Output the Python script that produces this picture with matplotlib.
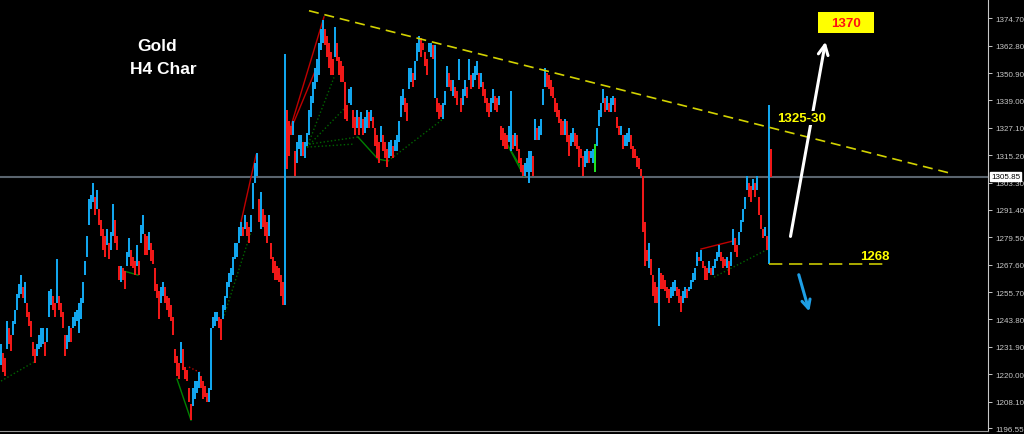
import matplotlib
matplotlib.use("Agg")
import matplotlib.pyplot as plt
from matplotlib.patches import Rectangle
import numpy as np

# Gold H4 candles as (high, low) pairs, oldest first
highs = [
    1233, 1229, 1227, 1243, 1240, 1237, 1243, 1248, 1255, 1259,
    1263, 1258, 1260, 1251, 1247, 1243, 1234, 1231, 1233, 1237,
    1240, 1240, 1234, 1240, 1256, 1257, 1254, 1251, 1270, 1254,
    1251, 1247, 1237, 1237, 1241, 1240, 1245, 1247, 1248, 1251,
    1253, 1260, 1269, 1280, 1296, 1298, 1303, 1297, 1300, 1292,
    1287, 1283, 1280, 1283, 1277, 1282, 1294, 1287, 1280, 1267,
    1267, 1266, 1265, 1273, 1279, 1274, 1271, 1269, 1276, 1269,
    1285, 1289, 1281, 1280, 1282, 1277, 1274, 1266, 1259, 1256,
    1258, 1260, 1258, 1254, 1253, 1250, 1245, 1231, 1228, 1225,
    1234, 1231, 1223, 1222, 1214, 1207, 1214, 1217, 1217, 1221,
    1219, 1217, 1215, 1212, 1214, 1240, 1245, 1247, 1247, 1245,
    1244, 1250, 1254, 1260, 1264, 1266, 1271, 1277, 1277, 1284,
    1286, 1284, 1289, 1286, 1284, 1289, 1303, 1312, 1316, 1296,
    1299, 1292, 1289, 1286, 1289, 1277, 1271, 1269, 1267, 1266,
    1263, 1260, 1359, 1335, 1330, 1328, 1330, 1317, 1321, 1324,
    1324, 1321, 1321, 1325, 1335, 1341, 1347, 1353, 1357, 1364,
    1370, 1374, 1370, 1367, 1364, 1360, 1357, 1371, 1364, 1358,
    1356, 1354, 1347, 1337, 1344, 1345, 1335, 1332, 1335, 1332,
    1334, 1331, 1332, 1335, 1334, 1335, 1332, 1327, 1324, 1321,
    1328, 1324, 1321, 1318, 1321, 1322, 1319, 1322, 1324, 1330,
    1341, 1344, 1340, 1338, 1353, 1353, 1351, 1356, 1364, 1367,
    1366, 1364, 1360, 1357, 1364, 1364, 1363, 1363, 1340, 1338,
    1337, 1338, 1343, 1354, 1351, 1348, 1348, 1345, 1343, 1357,
    1340, 1344, 1348, 1345, 1357, 1350, 1351, 1354, 1356, 1351,
    1351, 1347, 1344, 1340, 1338, 1340, 1344, 1341, 1340, 1341,
    1328, 1327, 1325, 1324, 1328, 1343, 1324, 1325, 1324, 1318,
    1314, 1311, 1312, 1314, 1317, 1317, 1315, 1331, 1327, 1328,
    1331, 1344, 1353, 1351, 1350, 1348, 1345, 1340, 1338, 1335,
    1331, 1330, 1331, 1330, 1324, 1325, 1327, 1325, 1324, 1319,
    1318, 1315, 1317, 1318, 1317, 1317, 1318, 1320, 1327, 1335,
    1338, 1344, 1340, 1341, 1338, 1340, 1341, 1340, 1332, 1328,
    1328, 1324, 1324, 1325, 1327, 1324, 1319, 1318, 1315, 1314,
    1309, 1306, 1286, 1274, 1277, 1270, 1263, 1260, 1258, 1266,
    1264, 1263, 1261, 1258, 1257, 1258, 1260, 1261, 1258, 1257,
    1254, 1256, 1258, 1257, 1258, 1261, 1264, 1266, 1273, 1271,
    1274, 1269, 1267, 1266, 1269, 1266, 1267, 1270, 1273, 1276,
    1273, 1271, 1270, 1271, 1269, 1273, 1283, 1279, 1276, 1282,
    1287, 1292, 1297, 1306, 1303, 1302, 1305, 1303, 1306, 1297,
    1289, 1283, 1284, 1280, 1337, 1318,
]
lows = [
    1224, 1221, 1219, 1231, 1233, 1230, 1237, 1242, 1248, 1253,
    1255, 1253, 1251, 1245, 1241, 1236, 1228, 1225, 1228, 1231,
    1232, 1233, 1228, 1234, 1245, 1250, 1248, 1245, 1251, 1248,
    1245, 1240, 1228, 1231, 1234, 1234, 1240, 1241, 1243, 1238,
    1244, 1251, 1263, 1271, 1285, 1292, 1295, 1289, 1292, 1285,
    1280, 1274, 1271, 1276, 1270, 1274, 1280, 1277, 1274, 1261,
    1260, 1261, 1257, 1267, 1271, 1267, 1266, 1263, 1267, 1263,
    1277, 1281, 1272, 1272, 1274, 1269, 1268, 1256, 1253, 1244,
    1251, 1254, 1251, 1248, 1245, 1243, 1237, 1225, 1219, 1218,
    1225, 1222, 1218, 1217, 1208, 1200, 1206, 1209, 1212, 1214,
    1214, 1209, 1210, 1208, 1208, 1213, 1240, 1241, 1243, 1240,
    1235, 1244, 1248, 1253, 1258, 1260, 1263, 1270, 1271, 1277,
    1280, 1280, 1283, 1280, 1277, 1282, 1292, 1303, 1306, 1286,
    1283, 1284, 1280, 1277, 1280, 1270, 1264, 1261, 1261, 1260,
    1254, 1250, 1250, 1309, 1315, 1324, 1324, 1306, 1312, 1318,
    1315, 1315, 1314, 1319, 1324, 1332, 1338, 1344, 1347, 1350,
    1361, 1364, 1363, 1358, 1353, 1350, 1350, 1358, 1356, 1350,
    1347, 1347, 1331, 1330, 1338, 1337, 1327, 1324, 1327, 1324,
    1327, 1324, 1325, 1327, 1327, 1330, 1327, 1319, 1314, 1312,
    1321, 1317, 1314, 1310, 1314, 1315, 1314, 1317, 1317, 1321,
    1332, 1337, 1334, 1330, 1344, 1347, 1345, 1348, 1356, 1360,
    1358, 1361, 1354, 1350, 1360, 1358, 1357, 1340, 1334, 1331,
    1332, 1331, 1337, 1345, 1345, 1343, 1341, 1340, 1337, 1348,
    1334, 1337, 1341, 1340, 1348, 1344, 1345, 1348, 1350, 1344,
    1345, 1341, 1338, 1334, 1332, 1334, 1338, 1335, 1334, 1337,
    1322, 1319, 1318, 1318, 1321, 1317, 1318, 1319, 1317, 1312,
    1308, 1306, 1306, 1308, 1303, 1308, 1306, 1322, 1322, 1322,
    1324, 1337, 1345, 1345, 1344, 1341, 1340, 1334, 1332, 1329,
    1324, 1324, 1324, 1321, 1315, 1319, 1321, 1319, 1318, 1310,
    1314, 1306, 1310, 1312, 1312, 1314, 1312, 1308, 1319, 1328,
    1332, 1338, 1334, 1335, 1334, 1334, 1337, 1334, 1327, 1324,
    1324, 1318, 1319, 1319, 1321, 1318, 1314, 1314, 1310, 1309,
    1306, 1282, 1267, 1269, 1266, 1263, 1254, 1251, 1251, 1241,
    1257, 1257, 1256, 1253, 1251, 1253, 1254, 1256, 1254, 1251,
    1247, 1251, 1253, 1253, 1256, 1257, 1260, 1261, 1267, 1269,
    1269, 1266, 1261, 1261, 1264, 1263, 1263, 1266, 1269, 1271,
    1269, 1266, 1267, 1266, 1263, 1267, 1276, 1273, 1271, 1276,
    1282, 1286, 1292, 1300, 1297, 1295, 1300, 1297, 1300, 1289,
    1283, 1279, 1280, 1274, 1268, 1305.85,
]
last_price = 1305.85
highlight_bar = 297  # the lime-green candle

price_ticks = [1374.70, 1362.80, 1350.90, 1339.00, 1327.10, 1315.20, 1303.30, 1291.40,
               1279.50, 1267.60, 1255.70, 1243.80, 1231.90, 1220.00, 1208.10, 1196.55]

# drawn analysis: resistance trendline, support at 1268, targets
trend_x = [154, 474.5]
trend_y = [1378.0, 1307.4]
support_level = 1268
support_x = [384, 441]
up_arrow = [(394.5, 1278.7), (412.5, 1365.7)]
down_arrow = [(398.5, 1264.4), (404.5, 1246.1)]
target_label = "1370"
resist_label = "1325-30"

# zigzag helper lines from the indicator: (colour, style, xs, ys)
zigzag = [
    ("#006400", ":", [0, 16.5], [1217.0, 1225.3]),
    ("#006400", ":", [111, 125], [1244.0, 1281.8]),
    ("#006400", ":", [153, 166.5], [1318.7, 1349.0]),
    ("#006400", ":", [153, 171.5], [1318.7, 1335.3]),
    ("#006400", ":", [153, 176], [1318.7, 1320.0]),
    ("#006400", ":", [154, 178.5], [1320.0, 1323.1]),
    ("#006400", ":", [193.5, 221], [1312.7, 1330.9]),
    ("#006400", ":", [356.5, 383.5], [1262.2, 1274.4]),
    ("#008000", "-", [61.5, 68.5], [1264.8, 1263.1]),
    ("#008000", "-", [88, 95], [1217.9, 1200.0]),
    ("#008000", "-", [178.5, 188.5, 193.5], [1323.1, 1313.5, 1312.7]),
    ("#008000", "-", [252.5, 261.5], [1320.9, 1306.1]),
    ("#008000", "-", [251.5, 262], [1322.2, 1307.0]),
    ("#c00000", ":", [94, 100], [1223.1, 1220.5]),
    ("#c00000", "-", [120, 127.5], [1286.1, 1315.3]),
    ("#c00000", "-", [145, 161.5], [1327.9, 1375.3]),
    ("#c00000", "-", [145, 157.5], [1326.6, 1352.7]),
    ("#c00000", "-", [350, 360, 366], [1274.4, 1276.6, 1277.9]),
]

highs = np.array(highs, dtype=float)
lows = np.array(lows, dtype=float)
idx = np.arange(len(highs))
up = np.r_[True, highs[1:] >= highs[:-1]]
colors = np.where(up, "#12a6ee", "#f01818").astype(object)
colors[highlight_bar] = "#20e020"

fig = plt.figure(figsize=(10.24, 4.35), dpi=100, facecolor="black")
ax = fig.add_axes([0, 3 / 435, 988 / 1024, 432 / 435])
ax.set_facecolor("black")
ax.set_xlim(-0.5, 493.5)
ax.set_ylim(1195.3, 1383.1)

ax.axhline(last_price, color="#5a646e", lw=1.5, zorder=1)

for c, ls, xs, ys in zigzag:
    ax.plot(xs, ys, color=c, ls=ls, lw=1.0, zorder=2)

ax.vlines(idx, lows, highs, colors=list(colors), lw=1.45, zorder=3)

ax.plot(trend_x, trend_y, color="#d2d200", lw=1.2, dashes=(6, 3.5), zorder=4)
ax.plot(support_x, [support_level] * 2, color="#c8c800", lw=1.2, dashes=(8, 4), zorder=4)

ax.annotate("", xy=up_arrow[1], xytext=up_arrow[0], zorder=5,
            arrowprops=dict(arrowstyle="->,head_length=0.7,head_width=0.35", color="white", lw=2.2))
ax.annotate("", xy=down_arrow[1], xytext=down_arrow[0], zorder=5,
            arrowprops=dict(arrowstyle="->,head_length=0.6,head_width=0.3", color="#1e9fe6", lw=2.2))

ax.add_patch(Rectangle((408.5, 1368.3), 28, 9.1, facecolor="#ffff00", edgecolor="none", zorder=5))
ax.text(422.5, 1372.8, target_label, color="#ff1010", fontsize=9.5, fontweight="bold",
        family="Liberation Sans", ha="center", va="center", zorder=6)
# the label sits on a black patch, so the arrow and trendline break behind it
ax.text(400.5, 1331.3, resist_label, color="#ffff00", fontsize=9.5, fontweight="bold",
        family="Liberation Sans", ha="center", va="center", zorder=6,
        bbox=dict(boxstyle="square,pad=0.1", fc="black", ec="none"))
ax.text(437, 1271.3, str(support_level), color="#ffff00", fontsize=9.5, fontweight="bold",
        family="Liberation Sans", ha="center", va="center", zorder=6)

ax.text(78, 1363.1, "Gold", color="white", fontsize=12.5, fontweight="bold",
        family="Liberation Sans", ha="center", va="center")
ax.text(81, 1352.7, "H4 Char", color="white", fontsize=12.5, fontweight="bold",
        family="Liberation Sans", ha="center", va="center")

# price scale on the right like the trading terminal
ax.yaxis.tick_right()
ax.set_yticks(price_ticks)
ax.set_yticklabels([f"{t:.2f}" for t in price_ticks])
ax.tick_params(axis="y", colors="#c8c8c8", labelsize=5.8, length=3, width=0.7, pad=2)
for lab in ax.get_yticklabels():
    lab.set_family("Liberation Sans")
ax.set_xticks([])
for side in ["left", "top"]:
    ax.spines[side].set_visible(False)
ax.spines["right"].set_color("#c8c8c8")
ax.spines["bottom"].set_color("#9a9a9a")

ax.text(1.003, last_price, f"{last_price:.2f}", transform=ax.get_yaxis_transform(),
        color="black", fontsize=5.8, family="Liberation Sans", ha="left", va="center",
        bbox=dict(boxstyle="square,pad=0.15", fc="white", ec="white"), clip_on=False, zorder=7)

fig.savefig("out.png", dpi=100, facecolor="black")
